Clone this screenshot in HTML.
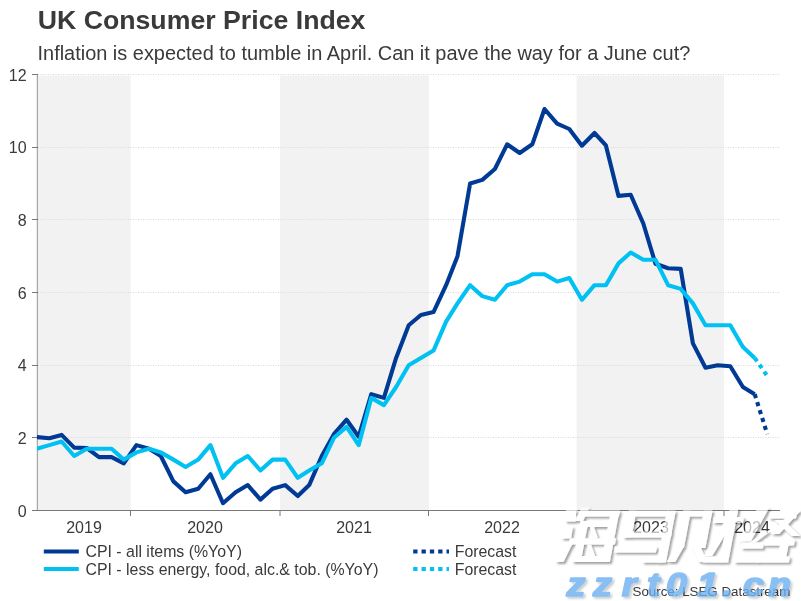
<!DOCTYPE html>
<html><head><meta charset="utf-8"><title>UK Consumer Price Index</title>
<style>
html,body{margin:0;padding:0;background:#fff;}
body{width:801px;height:601px;overflow:hidden;position:relative;font-family:"Liberation Sans",sans-serif;color:#333;}
svg{position:absolute;left:0;top:0;opacity:0.999;}
text{font-family:"Liberation Sans",sans-serif;fill:#3a3a3a;}
</style></head><body>
<svg width="801" height="601" viewBox="0 0 801 601">
<rect x="0" y="0" width="801" height="601" fill="#ffffff"/>
<!-- year bands -->
<g fill="#f2f2f2">
<rect x="38" y="75.4" width="92.6" height="435"/>
<rect x="280" y="75.4" width="148.8" height="435"/>
<rect x="576.6" y="75.4" width="147.3" height="435"/>
</g>
<!-- grid -->
<g stroke="#d8d8d8" stroke-width="1" stroke-dasharray="1,1.5">
<line x1="38" y1="437.5" x2="780" y2="437.5"/>
<line x1="38" y1="365.5" x2="780" y2="365.5"/>
<line x1="38" y1="292.5" x2="780" y2="292.5"/>
<line x1="38" y1="219.5" x2="780" y2="219.5"/>
<line x1="38" y1="147.5" x2="780" y2="147.5"/>
<line x1="38" y1="74.5" x2="780" y2="74.5"/>
</g>
<!-- axes -->
<g stroke="#787878" stroke-width="1" fill="none">
<line x1="37.4" y1="74" x2="37.4" y2="511" stroke="#a8a8a8" stroke-width="1.25"/>
<line x1="32" y1="510.5" x2="780" y2="510.5"/>
<line x1="32" y1="437.5" x2="38" y2="437.5"/>
<line x1="32" y1="365.5" x2="38" y2="365.5"/>
<line x1="32" y1="292.5" x2="38" y2="292.5"/>
<line x1="32" y1="219.5" x2="38" y2="219.5"/>
<line x1="32" y1="147.5" x2="38" y2="147.5"/>
<line x1="32" y1="74.5" x2="38" y2="74.5"/>
<line x1="130.5" y1="510" x2="130.5" y2="516"/>
<line x1="280" y1="510" x2="280" y2="516"/>
<line x1="428.5" y1="510" x2="428.5" y2="516"/>
<line x1="576.5" y1="510" x2="576.5" y2="516"/>
<line x1="724" y1="510" x2="724" y2="516"/>
</g>
<g font-size="16" text-anchor="end">
<text x="26.6" y="516.6">0</text>
<text x="26.6" y="443.9">2</text>
<text x="26.6" y="371.3">4</text>
<text x="26.6" y="298.6">6</text>
<text x="26.6" y="225.9">8</text>
<text x="26.6" y="153.3">10</text>
<text x="26.6" y="80.6">12</text>
</g>
<g font-size="16" text-anchor="middle">
<text x="84" y="533">2019</text>
<text x="205" y="533">2020</text>
<text x="354" y="533">2021</text>
<text x="502" y="533">2022</text>
<text x="651" y="533">2023</text>
<text x="752" y="533">2024</text>
</g>
<defs><clipPath id="c"><rect x="37" y="60" width="760" height="452"/></clipPath></defs>
<g clip-path="url(#c)" fill="none" stroke-linejoin="round" stroke-linecap="butt">
<polyline stroke="#003a95" stroke-width="4.1" points="36.8,437.1 49.4,438.2 61.6,434.9 74.2,447.6 86.8,448.0 99.0,457.1 111.6,457.1 123.8,463.3 136.4,445.1 149.0,448.7 160.8,456.0 173.4,481.4 185.6,492.3 198.2,488.7 210.4,474.2 223.0,503.2 235.6,492.3 247.8,485.1 260.4,499.6 272.6,488.7 285.2,485.1 297.8,496.0 309.2,485.1 321.8,456.0 333.9,434.2 346.6,419.7 358.7,436.7 371.3,394.2 383.9,397.9 396.1,357.9 408.7,325.2 420.9,315.0 433.5,312.1 446.1,285.2 457.5,256.2 470.1,183.5 482.3,179.9 494.9,169.0 507.1,144.3 519.7,153.0 532.3,144.3 544.5,109.0 557.1,123.6 569.3,129.0 581.9,145.7 594.5,133.0 605.9,145.4 618.5,195.9 630.7,194.8 643.3,223.5 655.5,263.8 668.1,268.2 680.7,268.9 692.9,343.4 705.5,367.7 717.7,365.2 730.3,366.3 742.9,387.0 754.7,394.2"/>
<polyline stroke="#003a95" stroke-width="4.1" stroke-dasharray="4.2,4.1" points="754.7,394.2 767.3,434.2"/>
<polyline stroke="#00c1f2" stroke-width="4.1" points="36.8,448.7 49.4,445.1 61.6,441.5 74.2,456.0 86.8,448.7 99.0,448.7 111.6,448.7 123.8,459.6 136.4,452.4 149.0,448.7 160.8,452.4 173.4,459.6 185.6,466.9 198.2,459.6 210.4,445.1 223.0,477.8 235.6,463.3 247.8,456.0 260.4,470.5 272.6,459.6 285.2,459.6 297.8,477.8 309.2,470.5 321.8,463.3 333.9,437.8 346.6,426.9 358.7,445.1 371.3,397.9 383.9,405.1 396.1,387.0 408.7,365.2 420.9,357.9 433.5,350.6 446.1,321.6 457.5,303.4 470.1,285.2 482.3,296.1 494.9,299.8 507.1,285.2 519.7,281.6 532.3,274.3 544.5,274.3 557.1,281.6 569.3,278.0 581.9,299.8 594.5,285.2 605.9,285.2 618.5,263.4 630.7,252.5 643.3,259.8 655.5,259.8 668.1,285.2 680.7,288.9 692.9,303.4 705.5,325.2 717.7,325.2 730.3,325.2 742.9,347.0 754.7,357.9"/>
<polyline stroke="#00c1f2" stroke-width="4.1" stroke-dasharray="4.2,4.1" points="754.7,357.9 767.3,376.1"/>
</g>
<g fill="none" stroke-width="4.05">
<line x1="43.8" y1="551.4" x2="78.8" y2="551.4" stroke="#003a95"/>
<line x1="43.8" y1="569" x2="78.8" y2="569" stroke="#00c1f2"/>
<line x1="413.2" y1="551.4" x2="449" y2="551.4" stroke="#003a95" stroke-dasharray="4.3,4.03"/>
<line x1="413.2" y1="569" x2="449" y2="569" stroke="#00c1f2" stroke-dasharray="4.3,4.03"/>
</g>
<g font-size="15.88">
<text x="85.5" y="556.5">CPI - all items (%YoY)</text>
<text x="85.5" y="574.5">CPI - less energy, food, alc.&amp; tob. (%YoY)</text>
<text x="454.7" y="556.5">Forecast</text>
<text x="454.7" y="574.5">Forecast</text>
</g>
<text x="790.3" y="595.5" font-size="13.33" text-anchor="end">Source: LSEG Datastream</text>
<text x="37.7" y="29.2" font-size="26.7" font-weight="bold" fill="#333">UK Consumer Price Index</text>
<text x="37.5" y="60.3" font-size="19.96" fill="#444">Inflation is expected to tumble in April. Can it pave the way for a June cut?</text>
<defs><filter id="ds" x="-5%" y="-10%" width="112%" height="125%">
<feGaussianBlur in="SourceAlpha" stdDeviation="1.1" result="b"/>
<feOffset in="b" dx="1.8" dy="2" result="o"/>
<feComponentTransfer in="o" result="s"><feFuncA type="linear" slope="0.55"/></feComponentTransfer>
<feMerge><feMergeNode in="s"/><feMergeNode in="SourceGraphic"/></feMerge></filter>
<filter id="ds2" x="-5%" y="-10%" width="112%" height="125%">
<feGaussianBlur in="SourceAlpha" stdDeviation="1" result="b"/>
<feOffset in="b" dx="1.5" dy="1.5" result="o"/>
<feComponentTransfer in="o" result="s"><feFuncA type="linear" slope="0.25"/></feComponentTransfer>
<feMerge><feMergeNode in="s"/><feMergeNode in="SourceGraphic"/></feMerge></filter></defs>
<g filter="url(#ds)" fill="#ffffff" opacity="0.68">
<polygon points="566.0,510.0 577.5,510.0 575.5,521.5 565.0,521.5"/>
<polygon points="562.0,526.5 573.0,526.5 571.0,538.5 561.5,538.5"/>
<polygon points="555.0,562.0 563.5,562.0 573.0,542.5 564.5,542.5"/>
<polygon points="581.5,507.5 589.5,507.5 583.0,521.0 575.0,521.0"/>
<polygon points="581.0,510.5 620.0,510.5 618.9,516.5 579.9,516.5"/>
<polygon points="581.0,521.0 617.0,521.0 615.9,527.0 579.9,527.0"/>
<polygon points="580.5,521.0 588.5,521.0 580.7,562.0 572.7,562.0"/>
<polygon points="610.0,516.0 618.5,516.0 609.8,562.0 601.3,562.0"/>
<polygon points="570.0,538.5 616.0,538.5 614.9,544.5 568.9,544.5"/>
<polygon points="573.0,556.0 607.0,556.0 605.9,562.0 571.9,562.0"/>
<polygon points="590.0,527.0 594.0,527.0 598.0,538.5 594.0,538.5"/>
<polygon points="587.0,544.5 591.0,544.5 595.0,556.0 591.0,556.0"/>
<polygon points="629.0,510.5 669.0,510.5 667.9,516.5 627.9,516.5"/>
<polygon points="628.5,510.5 636.5,510.5 631.4,537.5 623.4,537.5"/>
<polygon points="624.0,531.5 672.0,531.5 670.9,537.5 622.9,537.5"/>
<polygon points="667.0,510.5 675.8,510.5 665.9,562.5 657.1,562.5"/>
<polygon points="643.0,556.5 664.0,556.5 662.9,562.5 641.9,562.5"/>
<polygon points="615.0,546.5 657.0,546.5 655.9,552.5 613.9,552.5"/>
<polygon points="683.5,510.5 712.0,510.5 710.9,516.5 682.4,516.5"/>
<polygon points="683.0,510.5 691.0,510.5 683.9,548.0 675.9,548.0"/>
<polygon points="704.0,510.5 712.5,510.5 705.4,548.0 696.9,548.0"/>
<polygon points="675.8,546.0 684.2,546.0 675.2,562.0 666.8,562.0"/>
<polygon points="691.8,546.0 700.2,546.0 707.2,562.0 698.8,562.0"/>
<polygon points="714.0,517.0 744.0,517.0 742.9,523.0 712.9,523.0"/>
<polygon points="729.7,508.0 738.5,508.0 728.1,562.5 719.3,562.5"/>
<polygon points="704.0,556.5 722.0,556.5 720.9,562.5 702.9,562.5"/>
<polygon points="723.8,523.0 732.2,523.0 712.2,556.0 703.8,556.0"/>
<polygon points="757.8,507.5 769.2,507.5 750.8,541.5 739.2,541.5"/>
<polygon points="765.5,531.0 770.5,531.0 754.5,543.0 749.5,543.0"/>
<polygon points="742.0,542.5 764.0,542.5 762.9,548.5 740.9,548.5"/>
<polygon points="735.0,556.5 760.0,556.5 758.9,562.5 733.9,562.5"/>
<polygon points="770.0,512.5 797.0,512.5 795.9,518.5 768.9,518.5"/>
<polygon points="792.8,510.0 801.2,510.0 779.2,534.0 770.8,534.0"/>
<polygon points="774.8,520.0 783.2,520.0 800.2,536.0 791.8,536.0"/>
<polygon points="765.0,539.5 795.0,539.5 793.9,545.5 763.9,545.5"/>
<polygon points="780.0,545.0 788.5,545.0 786.2,557.0 777.7,557.0"/>
<polygon points="757.0,556.5 790.0,556.5 788.9,562.5 755.9,562.5"/>
</g>
<g font-size="33" font-weight="bold" font-style="italic" fill="#6cb0ef" opacity="0.8" filter="url(#ds2)">
<text transform="translate(566.5,596) scale(1.15,1)" style="fill:#6cb0ef;stroke:#6cb0ef;stroke-width:1.6px;stroke-linejoin:round">z</text>
<text transform="translate(593.0,596) scale(1.15,1)" style="fill:#6cb0ef;stroke:#6cb0ef;stroke-width:1.6px;stroke-linejoin:round">z</text>
<text transform="translate(621.7,596) scale(1.15,1)" style="fill:#6cb0ef;stroke:#6cb0ef;stroke-width:1.6px;stroke-linejoin:round">r</text>
<text transform="translate(647.0,596) scale(1.15,1)" style="fill:#6cb0ef;stroke:#6cb0ef;stroke-width:1.6px;stroke-linejoin:round">t</text>
<text transform="translate(666.0,596) scale(1.15,1)" style="fill:#6cb0ef;stroke:#6cb0ef;stroke-width:1.6px;stroke-linejoin:round">0</text>
<text transform="translate(697.0,596) scale(1.15,1)" style="fill:#6cb0ef;stroke:#6cb0ef;stroke-width:1.6px;stroke-linejoin:round">1</text>
<text transform="translate(722.5,596) scale(1.15,1)" style="fill:#6cb0ef;stroke:#6cb0ef;stroke-width:1.6px;stroke-linejoin:round">.</text>
<text transform="translate(743.0,596) scale(1.15,1)" style="fill:#6cb0ef;stroke:#6cb0ef;stroke-width:1.6px;stroke-linejoin:round">c</text>
<text transform="translate(768.0,596) scale(1.15,1)" style="fill:#6cb0ef;stroke:#6cb0ef;stroke-width:1.6px;stroke-linejoin:round">n</text>
</g>
</svg>
</body></html>
